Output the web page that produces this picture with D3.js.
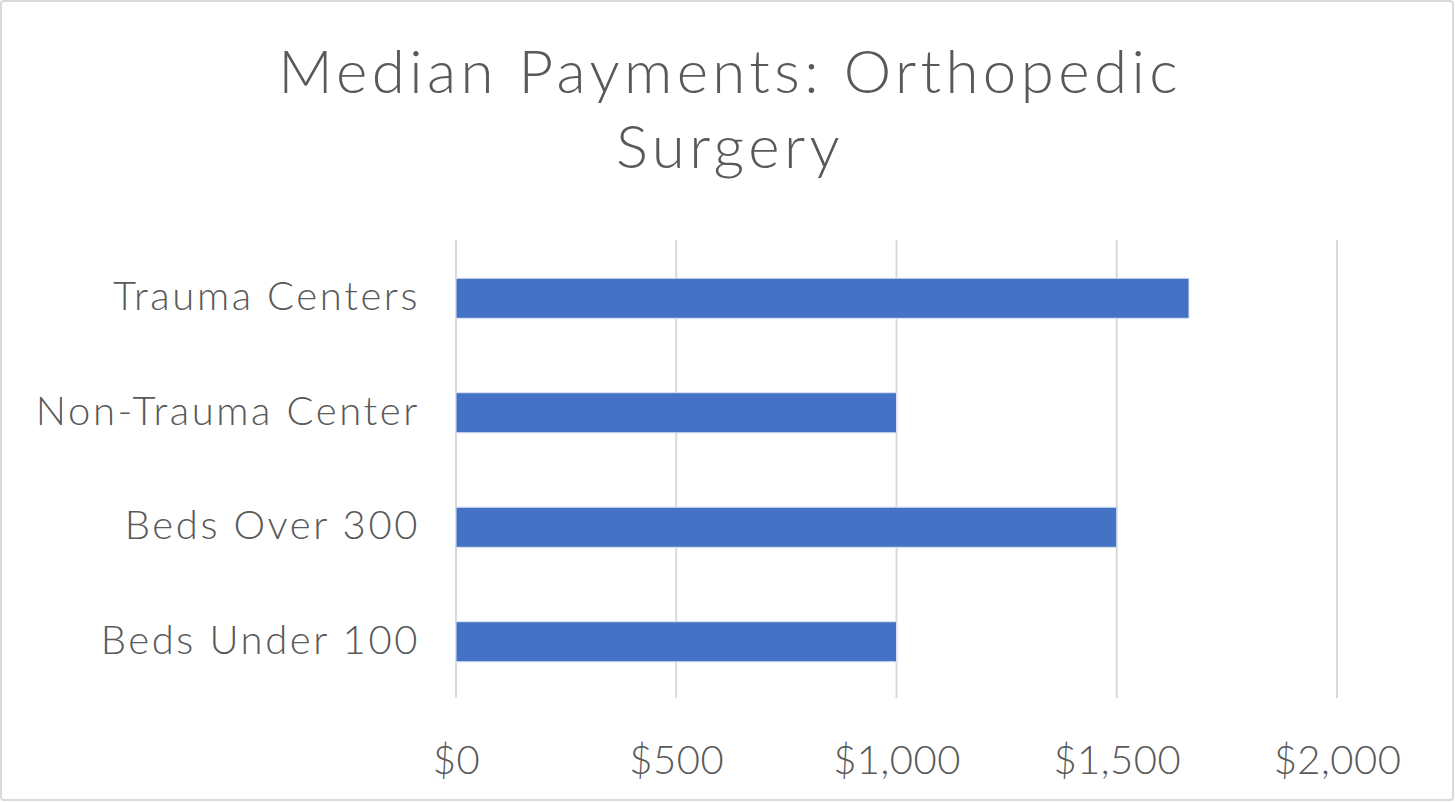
<!DOCTYPE html>
<html>
<head>
<meta charset="utf-8">
<script src="https://cdn.jsdelivr.net/npm/d3@7"></script>
<style>
  body { margin: 0; background: #fff; }
  svg text { font-family: "Lato", "Noto Sans", sans-serif; font-weight: 300; fill: #595959; }
</style>
</head>
<body>
<svg id="chart"></svg>
<script>
// Chart data
const categories = ["Trauma Centers", "Non-Trauma Center", "Beds Over 300", "Beds Under 100"];
const payments = [1664, 1000, 1500, 1000];
const xTicks = [0, 500, 1000, 1500, 2000];
const titleLines = ["Median Payments: Orthopedic", "Surgery"];

const width = 1455;
const height = 802;
const margin = { top: 240, right: 118, bottom: 104, left: 456 };
const plotWidth = width - margin.left - margin.right;
const plotHeight = height - margin.top - margin.bottom;

const svg = d3.select("#chart").attr("width", width).attr("height", height);

// Outer border
svg
  .append("rect")
  .attr("x", 1)
  .attr("y", 1)
  .attr("width", width - 3)
  .attr("height", height - 3)
  .attr("rx", 3)
  .attr("fill", "#fff")
  .attr("stroke", "#d9d9d9")
  .attr("stroke-width", 2);

// Title
svg
  .append("text")
  .attr("text-anchor", "middle")
  .style("font-size", "60px")
  .style("letter-spacing", "4.4px")
  .selectAll("tspan")
  .data(titleLines)
  .enter()
  .append("tspan")
  .attr("x", 730)
  .attr("y", (d, i) => 93 + i * 75)
  .text((d) => d);

const g = svg.append("g").attr("transform", `translate(${margin.left},${margin.top})`);

const xScale = d3.scaleLinear().domain([0, 2000]).range([0, plotWidth]);
const yScale = d3.scaleBand().domain(categories).range([0, plotHeight]).paddingInner(0.65).paddingOuter(0.325);

// Gridlines
g.selectAll(".grid")
  .data(xTicks)
  .enter()
  .append("line")
  .attr("class", "grid")
  .attr("x1", (d) => xScale(d))
  .attr("x2", (d) => xScale(d))
  .attr("y1", 0)
  .attr("y2", plotHeight)
  .attr("stroke", "#d9d9d9")
  .attr("stroke-width", 2);

// Bars
g.selectAll(".bar")
  .data(categories)
  .enter()
  .append("rect")
  .attr("class", "bar")
  .attr("x", xScale(0))
  .attr("y", (d) => yScale(d) + 1)
  .attr("width", (d, i) => xScale(payments[i]) - xScale(0))
  .attr("height", yScale.bandwidth())
  .attr("fill", "#4472c4")
  .attr("stroke", "#dbe4f4")
  .attr("stroke-width", 1);

// X axis labels
const xAxis = g
  .append("g")
  .attr("transform", `translate(0,${plotHeight})`)
  .call(d3.axisBottom(xScale).tickValues(xTicks).tickSize(0).tickPadding(48).tickFormat((d) => "$" + d3.format(",")(d)));
xAxis.select(".domain").remove();
xAxis.selectAll("text").style("font-size", "40px").style("letter-spacing", "0.5px").attr("fill", "#595959");

// Y axis labels
const yAxis = g.append("g").call(d3.axisLeft(yScale).tickSize(0).tickPadding(36));
yAxis.select(".domain").remove();
yAxis.selectAll("text").style("font-size", "40px").style("letter-spacing", "2.6px").attr("fill", "#595959");
</script>
</body>
</html>
